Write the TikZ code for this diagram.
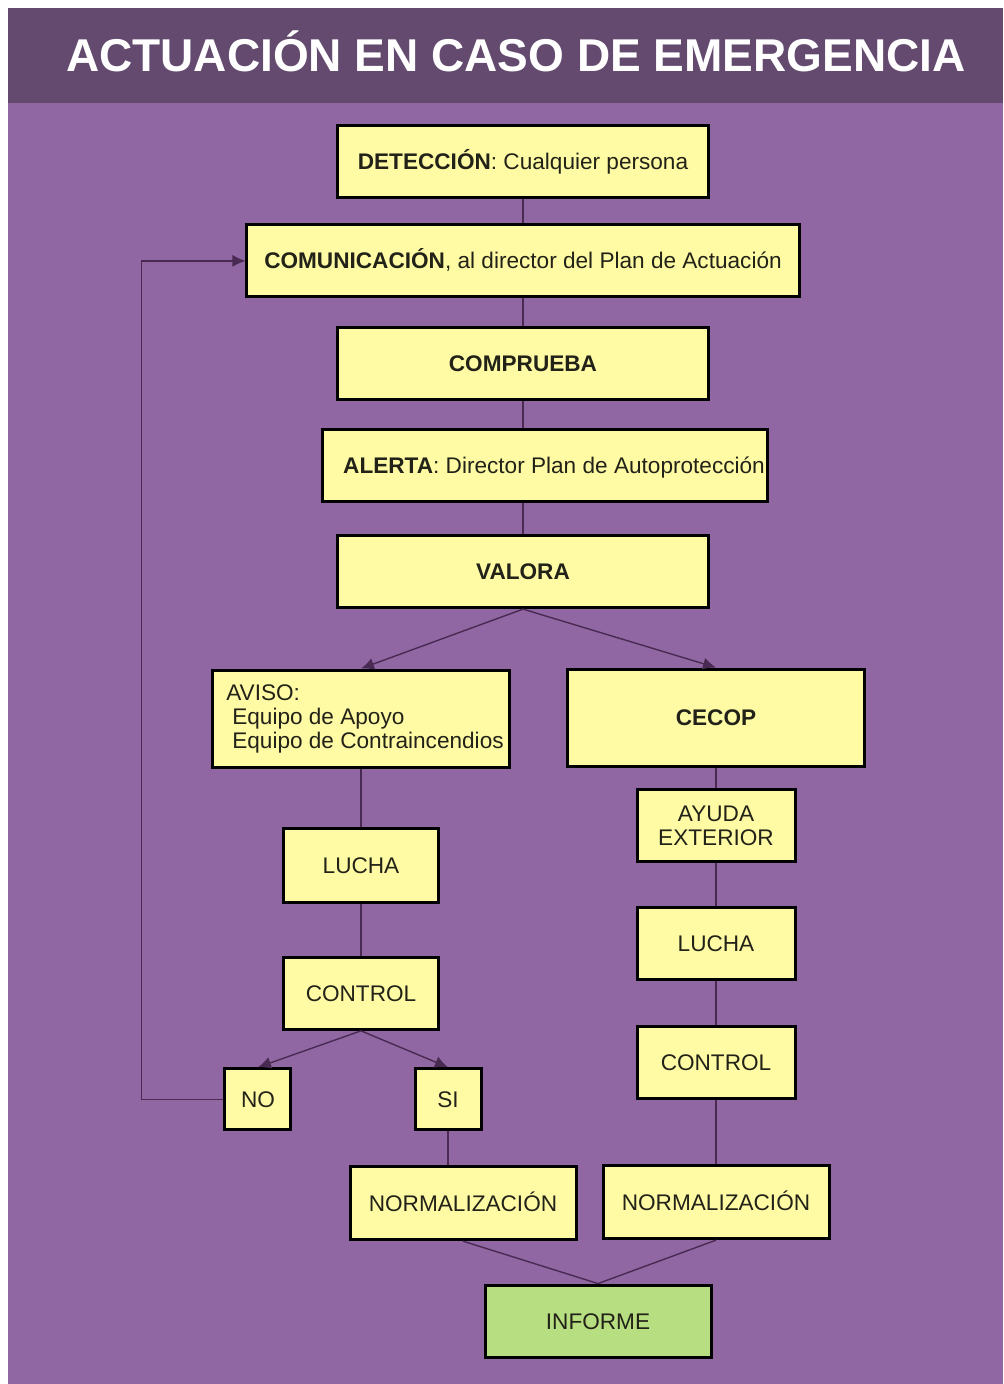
\documentclass[tikz,border=0pt]{standalone}
\usepackage{fontspec}
\setmainfont{Liberation Sans}
\usepackage{tikz}
\usetikzlibrary{shapes.geometric, arrows, arrows.meta}
\definecolor{barpurple}{RGB}{99,74,110}
\definecolor{bgpurple}{RGB}{145,103,163}
\definecolor{boxyellow}{RGB}{255,251,165}
\definecolor{boxgreen}{RGB}{183,222,128}
\definecolor{linepurple}{RGB}{72,42,82}
\definecolor{txtdark}{RGB}{34,34,24}
\tikzstyle{link} = [line width=0.7pt,draw=linepurple]

\begin{document}
\begin{tikzpicture}
   \tikzset{box/.style= {draw=black, fill=boxyellow, rectangle, line width=1.5pt, align=center, inner sep=1pt, text=txtdark, font=\fontsize{11.3}{12}\selectfont, minimum height=36pt},
   block/.style={box, text height=8pt, text depth=0pt},
   gblock/.style={block, fill=boxgreen},
   arrow/.style={link, -{Latex[length=6.5pt,width=6pt]}}
   }

 % background and title
 \useasboundingbox (-261.5pt,81pt) rectangle (240pt,-611pt);
 \fill[white] (-261.5pt,81pt) rectangle (240pt,-611pt);
 \fill[barpurple] (-257.5pt,77pt) rectangle (240pt,29.5pt);
 \fill[bgpurple] (-257.5pt,29.5pt) rectangle (240pt,-611pt);
 \node [anchor=base, text=white, font=\fontsize{23}{23}\selectfont\bfseries] (title) at (-3.5pt,45pt) {ACTUACIÓN EN CASO DE EMERGENCIA};

 % main chain
 \node [block, minimum width=185pt] (det) {\textbf{DETECCIÓN}: Cualquier persona};
 \node [block, minimum width=276pt, below of=det, yshift=-21pt] (com) {\textbf{COMUNICACIÓN}, al director del Plan de Actuación};
 \node [block, minimum width=185pt, below of=com, yshift=-23pt] (comp) {\textbf{COMPRUEBA}};
 \node [block, minimum width=222pt, below of=comp, yshift=-22.5pt, xshift=11pt] (alerta) {\hspace*{9pt}\textbf{ALERTA}: Director Plan de Autoprotección};
 \node [block, minimum width=185pt, below of=alerta, yshift=-24.5pt, xshift=-11pt] (valora) {\textbf{VALORA}};

 % left branch
 \node [box, minimum width=148pt, minimum height=48.5pt, align=left, below of=valora, yshift=-45pt, xshift=-81pt] (aviso) {\hspace*{4pt}AVISO:\\\hspace*{7pt}Equipo de Apoyo\\\hspace*{7pt}Equipo de Contraincendios};
 \node [block, minimum width=77pt, minimum height=37pt, below of=aviso, yshift=-45pt] (lucha1) {LUCHA};
 \node [block, minimum width=77pt, below of=lucha1, yshift=-35.5pt] (control1) {CONTROL};
 \node [block, minimum width=33pt, minimum height=30.5pt, below of=control1, yshift=-24.5pt, xshift=-51.5pt] (no) {NO};
 \node [block, minimum width=33pt, minimum height=30.5pt, below of=control1, yshift=-24.5pt, xshift=43.5pt] (si) {SI};
 \node [block, minimum width=113pt, minimum height=36.5pt, below of=si, yshift=-23.5pt, xshift=7.5pt] (norm1) {NORMALIZACIÓN};

 % right branch
 \node [block, minimum width=148.5pt, minimum height=48.5pt, below of=valora, yshift=-44.5pt, xshift=96.5pt] (cecop) {\textbf{CECOP}};
 \node [box, minimum width=79pt, below of=cecop, yshift=-25.5pt] (ayuda) {AYUDA\\EXTERIOR};
 \node [block, minimum width=79pt, below of=ayuda, yshift=-30.5pt] (lucha2) {LUCHA};
 \node [block, minimum width=79pt, below of=lucha2, yshift=-31pt] (control2) {CONTROL};
 \node [block, minimum width=113pt, minimum height=36.5pt, below of=control2, yshift=-41.5pt] (norm2) {NORMALIZACIÓN};

 \node [gblock, minimum width=113pt, below of=norm1, yshift=-30.5pt, xshift=67.5pt] (informe) {INFORME};

 \draw [link] (det) -- (com);
 \draw [link] (com) -- (comp);
 \draw [link] (comp.south) -- (comp.south |- alerta.north);
 \draw [link] (valora.north |- alerta.south) -- (valora.north);
 \draw [arrow] (valora.south) -- (aviso.north);
 \draw [arrow] (valora.south) -- (cecop.north);
 \draw [link] (aviso) -- (lucha1);
 \draw [link] (lucha1) -- (control1);
 \draw [arrow] (control1.south) -- (no.north);
 \draw [arrow] (control1.south) -- (si.north);
 \draw [arrow] (no.west) -- ++(-41pt,0) |- (com.west);
 \draw [link] (si.south) -- (si.south |- norm1.north);
 \draw [link] (cecop) -- (ayuda);
 \draw [link] (ayuda) -- (lucha2);
 \draw [link] (lucha2) -- (control2);
 \draw [link] (control2) -- (norm2);
 \draw [link] (norm1.south) -- (informe.north);
 \draw [link] (norm2.south) -- (informe.north);
\end{tikzpicture}
\end{document}
